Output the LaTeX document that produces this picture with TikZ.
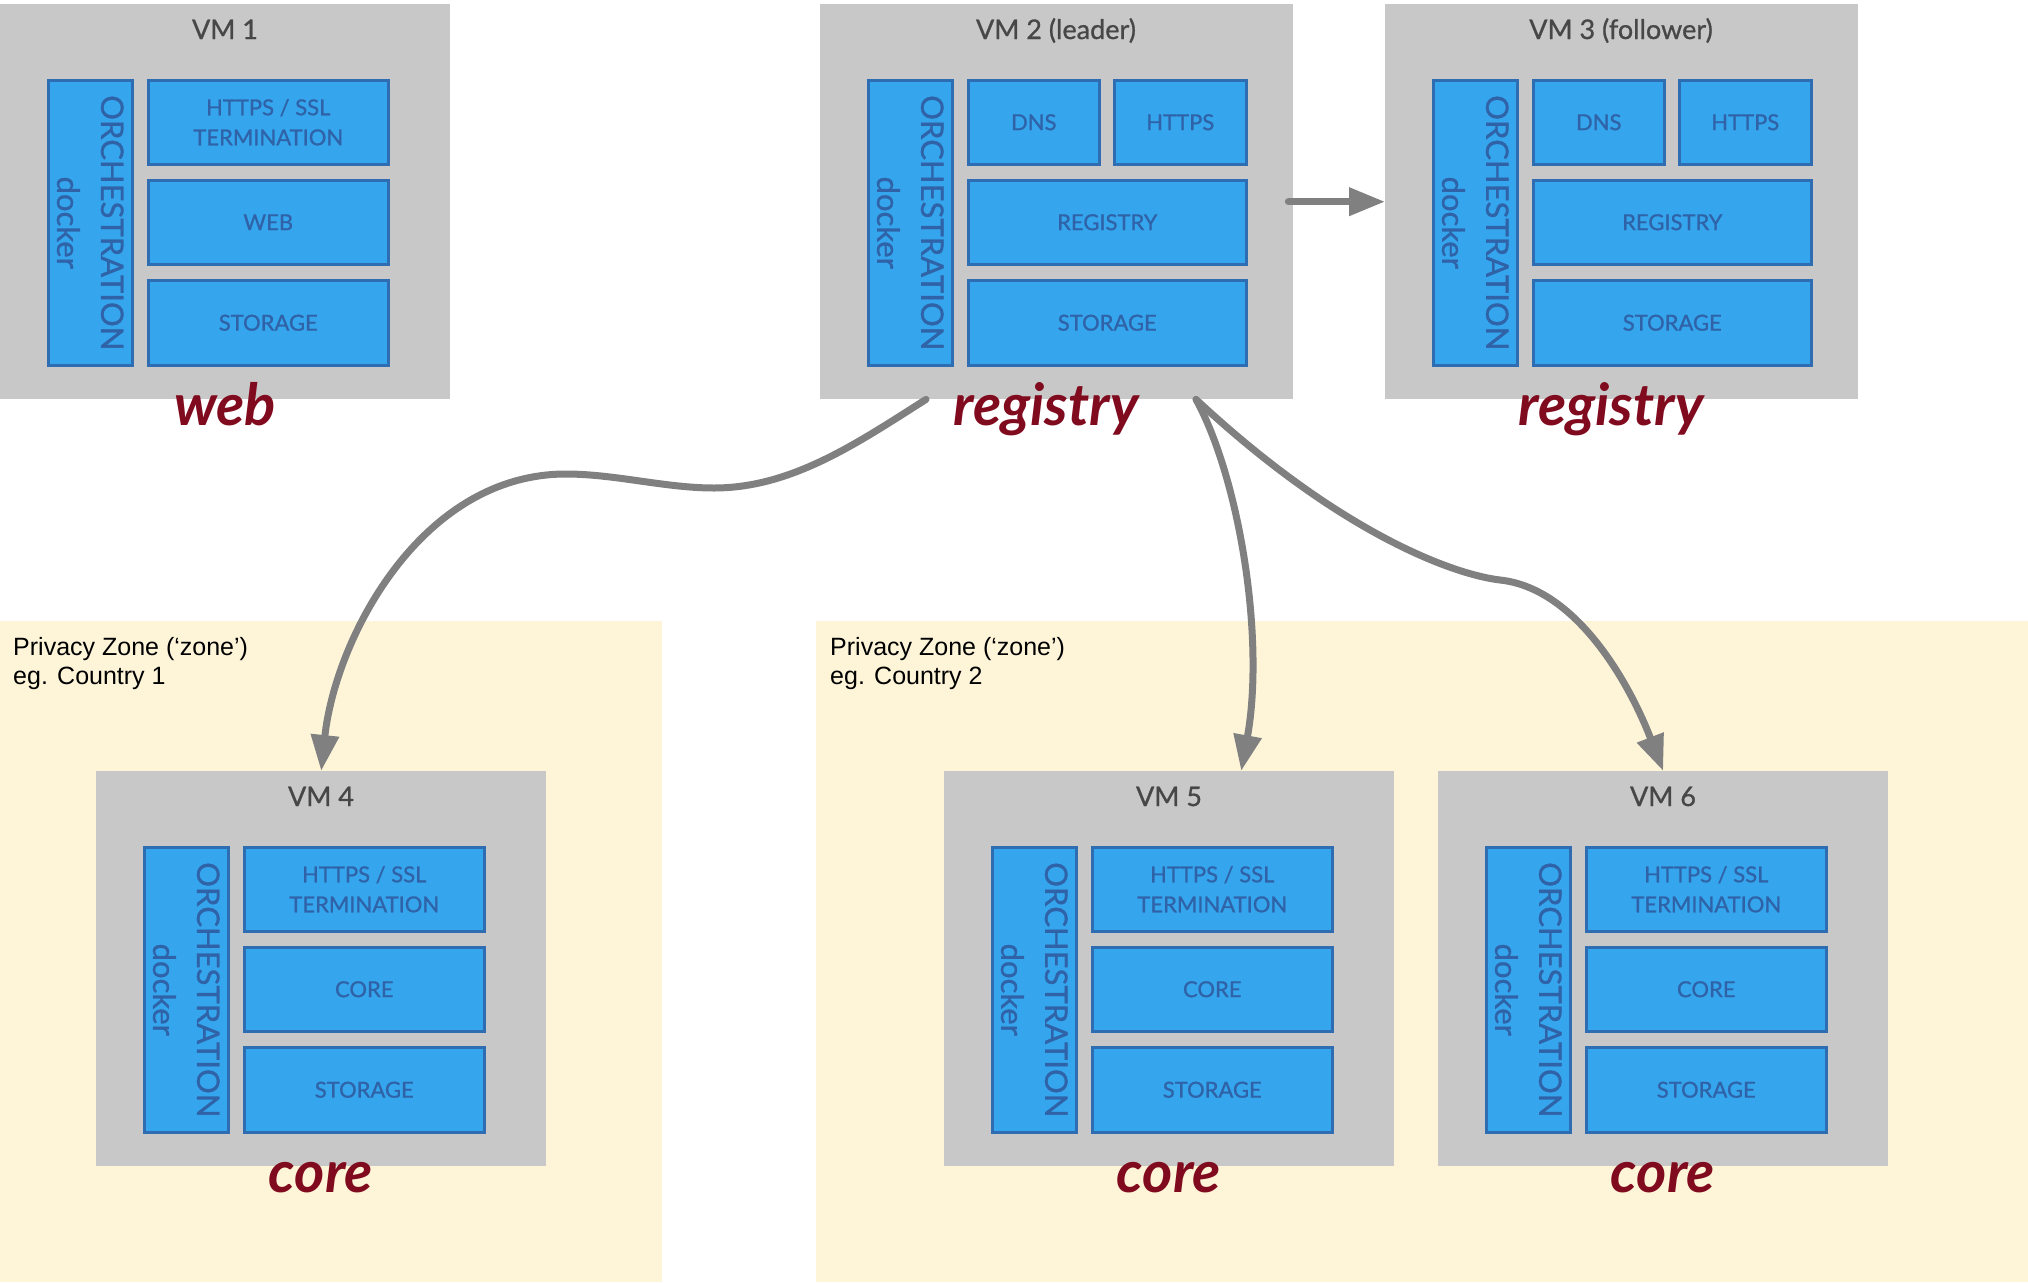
\documentclass[tikz,border=0pt]{standalone}
\usepackage{fontspec}
\setmainfont{Lato}
\newfontfamily\boitefont[BoldFont=Lato, BoldFeatures={FakeBold=0.9}]{Lato}
\newfontfamily\zonefont{Liberation Sans}
\usetikzlibrary{arrows.meta,positioning}

\definecolor{grisvm}{HTML}{C8C8C8}
\definecolor{bleu}{HTML}{35A5EE}
\definecolor{bleufonce}{HTML}{2F6DB3}
\definecolor{textebleu}{HTML}{2F62A6}
\definecolor{grisfonce}{HTML}{474747}
\definecolor{rouge}{HTML}{800A1E}
\definecolor{jaunezone}{HTML}{FEF5D9}
\definecolor{grisfleche}{HTML}{808080}

\tikzset{
  vm/.style={fill=grisvm, inner sep=0pt, anchor=north west, minimum width=450pt, minimum height=395pt},
  vmlarge/.style={vm, minimum width=473pt},
  bloc/.style={fill=bleu, draw=bleufonce, line width=2.5pt, inner sep=0pt, anchor=north west,
    text=textebleu, align=center, font=\boitefont\bfseries\fontsize{22}{30}\selectfont},
  orchtexte/.style={rotate=-90, text=textebleu, align=center, font=\boitefont\bfseries\fontsize{31}{44}\selectfont},
  titre/.style={anchor=base, text=grisfonce, font=\boitefont\bfseries\fontsize{27}{32}\selectfont},
  role/.style={anchor=base, text=rouge, font=\fontsize{58}{60}\selectfont\bfseries\itshape},
  zonetexte/.style={anchor=north west, inner sep=0pt, align=left, font=\zonefont\fontsize{25}{29}\selectfont},
  fleche/.style={draw=grisfleche, line width=7pt, line cap=round, -{Triangle[length=36pt,width=27pt]}}
}

\begin{document}
\begin{tikzpicture}[x=1pt, y=-1pt]
        \useasboundingbox (0,0) rectangle (2028,1282);

        % Zones de confidentialite
        \fill[jaunezone] (0,621) rectangle (662,1282);
        \fill[jaunezone] (816,621) rectangle (2028,1282);
        \node[zonetexte] (zone1texte) at (13,637) {Privacy Zone (‘zone’)\\eg. Country 1};
        \node[zonetexte] (zone2texte) at (830,637) {Privacy Zone (‘zone’)\\eg. Country 2};

        % VM web et core
        \foreach \n/\x/\y/\milieu/\mot in {1/0/4/WEB/web, 4/96/771/CORE/core, 5/944/771/CORE/core, 6/1438/771/CORE/core}{
          \node[vm] (vm\n) at (\x,\y) {};
          \node[titre] (titre\n) at (\x+225,\y+35) {VM \n};
          \node[bloc, minimum width=84pt, minimum height=285pt] (orch\n) at (\x+47,\y+75) {};
          \node[orchtexte] (orchtexte\n) at (orch\n.center) {ORCHESTRATION\\docker};
          \node[bloc, minimum width=240pt, minimum height=84pt] (ssl\n) at (\x+147,\y+75) {HTTPS / SSL\\TERMINATION};
          \node[bloc, minimum width=240pt, minimum height=84pt] (mid\n) at (\x+147,\y+175) {\milieu};
          \node[bloc, minimum width=240pt, minimum height=85pt] (stock\n) at (\x+147,\y+275) {STORAGE};
          \node[role] (role\n) at (\x+225,\y+421) {\mot};
        }

        % VM registry (leader et follower)
        \foreach \n/\x/\nom in {2/820/VM 2 (leader), 3/1385/VM 3 (follower)}{
          \node[vmlarge] (vm\n) at (\x,4) {};
          \node[titre] (titre\n) at (\x+236,39) {\nom};
          \node[bloc, minimum width=84pt, minimum height=285pt] (orch\n) at (\x+47,79) {};
          \node[orchtexte] (orchtexte\n) at (orch\n.center) {ORCHESTRATION\\docker};
          \node[bloc, minimum width=131pt, minimum height=84pt] (dns\n) at (\x+147,79) {DNS};
          \node[bloc, minimum width=132pt, minimum height=84pt] (https\n) at (\x+293,79) {HTTPS};
          \node[bloc, minimum width=278pt, minimum height=84pt] (reg\n) at (\x+147,179) {REGISTRY};
          \node[bloc, minimum width=278pt, minimum height=85pt] (stock\n) at (\x+147,279) {STORAGE};
          \node[role] (role\n) at (\x+226,425) {registry};
        }

        % Replication leader -> follower
        \draw[fleche] ([xshift=-5pt]vm2.east) -- (vm3.west);

        % Distribution vers les zones
        \draw[fleche] ([xshift=106pt]vm2.south west) .. controls (856,444) and (791,488) .. (714,488)
          .. controls (665,488) and (615,474) .. (566,474)
          .. controls (420,474) and (335,640) .. (vm4.north);
        \draw[fleche] ([xshift=376pt]vm2.south west) .. controls (1240,480) and (1265,640) .. ([xshift=72pt]vm5.north);
        \draw[fleche] ([xshift=376pt]vm2.south west) .. controls (1336,530) and (1450,574) .. (1500,580)
          .. controls (1575,588) and (1628,680) .. (vm6.north);
      \end{tikzpicture}
\end{document}
